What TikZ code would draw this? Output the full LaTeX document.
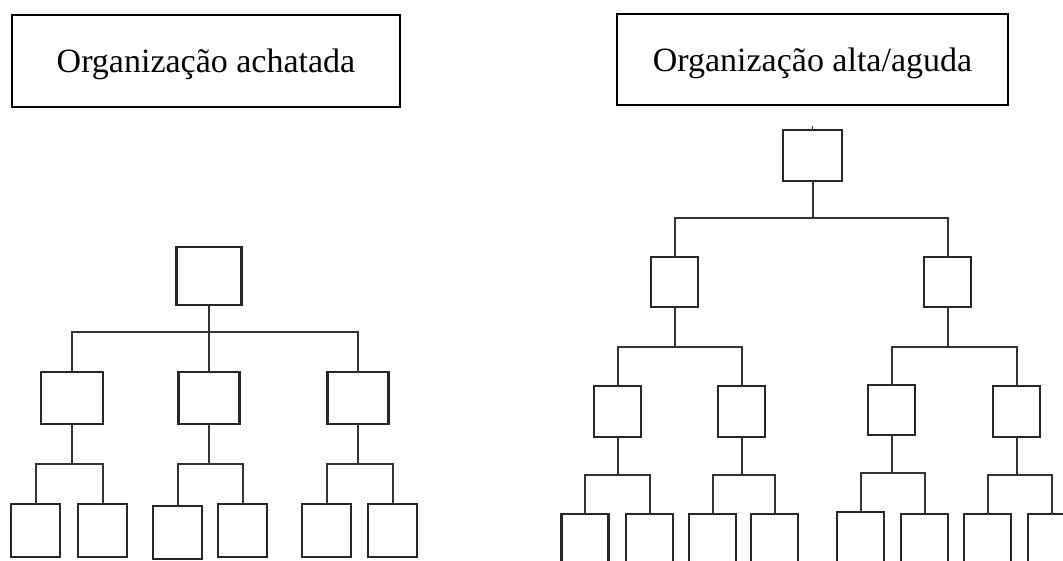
\documentclass[tikz,border=0pt]{standalone}
\usepackage{fontspec}
\setmainfont{Liberation Serif}
\begin{document}
\begin{tikzpicture}[x=1pt,y=-1pt,
  bx/.style 2 args={draw=black!85, line width=2.2pt, inner sep=0pt, outer sep=0pt, minimum width=#1, minimum height=#2},
  title/.style 2 args={draw=black, line width=2.2pt, inner sep=0pt, outer sep=0pt, minimum width=#1, minimum height=#2, font=\fontsize{34}{40}\selectfont, text height=24pt, text depth=0pt},
  conn/.style={draw=black!80, line width=2pt}]
\useasboundingbox (0,0) rectangle (1063,561);
\clip (0,0) rectangle (1063,561);
% titles
\node[title={388}{92}] (tl) at (206,61) {Organização achatada};
\node[title={391}{91}] (tr) at (812.5,59.5) {Organização alta/aguda};
% ---------- left tree ----------
\node[bx={65}{58}] (LT) at (209,276) {};
\node[bx={62}{52}] (LM1) at (72,398) {};
\node[bx={61}{52}] (LM2) at (209,398) {};
\node[bx={61}{52}] (LM3) at (358,398) {};
\node[bx={49}{53}] (LL1) at (35.5,530.5) {};
\node[bx={49}{53}] (LL2) at (102.5,530.5) {};
\node[bx={49}{53}] (LL3) at (177.5,532.5) {};
\node[bx={49}{53}] (LL4) at (242.5,530.5) {};
\node[bx={49}{53}] (LL5) at (326.5,530.5) {};
\node[bx={49}{53}] (LL6) at (392.5,530.5) {};
\coordinate (LB) at (209,332);
\draw[conn] (LT.south) -- (LB);
\draw[conn] (LB) -| (LM1.north);
\draw[conn] (LB) -- (LM2.north);
\draw[conn] (LB) -| (LM3.north);
\coordinate (LB1) at (72,464);
\coordinate (LB2) at (209,464);
\coordinate (LB3) at (358,464);
\draw[conn] (LM1.south) -- (LB1);
\draw[conn] (LB1) -| (LL1.north);
\draw[conn] (LB1) -| (LL2.north);
\draw[conn] (LM2.south) -- (LB2);
\draw[conn] (LB2) -| (LL3.north);
\draw[conn] (LB2) -| (LL4.north);
\draw[conn] (LM3.south) -- (LB3);
\draw[conn] (LB3) -| (LL5.north);
\draw[conn] (LB3) -| (LL6.north);
% ---------- right tree ----------
\node[bx={59}{51}] (RT) at (812.5,155.5) {};
\coordinate (RS) at (812.5,126);
\draw[draw=black!80, line width=1pt] (RS) -- (RT.north);
\node[bx={47}{50}] (RA) at (674.5,282) {};
\node[bx={47}{50}] (RB) at (947.5,282) {};
\node[bx={47}{51}] (RC1) at (617.5,411.5) {};
\node[bx={47}{51}] (RC2) at (741.5,411.5) {};
\node[bx={47}{50}] (RC3) at (891.5,410) {};
\node[bx={47}{51}] (RC4) at (1016.5,411.5) {};
\node[bx={47}{60}] (RD1) at (585,544) {};
\node[bx={47}{60}] (RD2) at (649.5,544) {};
\node[bx={47}{60}] (RD3) at (712.5,544) {};
\node[bx={47}{60}] (RD4) at (774.5,544) {};
\node[bx={47}{60}] (RD5) at (860.5,542) {};
\node[bx={47}{60}] (RD6) at (924.5,544) {};
\node[bx={47}{60}] (RD7) at (987.5,544) {};
\node[bx={47}{60}] (RD8) at (1051.5,544) {};
\coordinate (RBus) at (812.5,218);
\draw[conn] (RT.south) -- (RBus);
\draw[conn] (RBus) -| (RA.north);
\draw[conn] (RBus) -| (RB.north);
\coordinate (RBa) at (674.5,347);
\coordinate (RBb) at (947.5,347);
\draw[conn] (RA.south) -- (RBa);
\draw[conn] (RBa) -| (RC1.north);
\draw[conn] (RBa) -| (RC2.north);
\draw[conn] (RB.south) -- (RBb);
\draw[conn] (RBb) -| (RC3.north);
\draw[conn] (RBb) -| (RC4.north);
\coordinate (RB1) at (617.5,475);
\coordinate (RB2) at (741.5,475);
\coordinate (RB3) at (891.5,473);
\coordinate (RB4) at (1016.5,475);
\draw[conn] (RC1.south) -- (RB1);
\draw[conn] (RB1) -| (RD1.north);
\draw[conn] (RB1) -| (RD2.north);
\draw[conn] (RC2.south) -- (RB2);
\draw[conn] (RB2) -| (RD3.north);
\draw[conn] (RB2) -| (RD4.north);
\draw[conn] (RC3.south) -- (RB3);
\draw[conn] (RB3) -| (RD5.north);
\draw[conn] (RB3) -| (RD6.north);
\draw[conn] (RC4.south) -- (RB4);
\draw[conn] (RB4) -| (RD7.north);
\draw[conn] (RB4) -| (RD8.north);
\end{tikzpicture}
\end{document}
